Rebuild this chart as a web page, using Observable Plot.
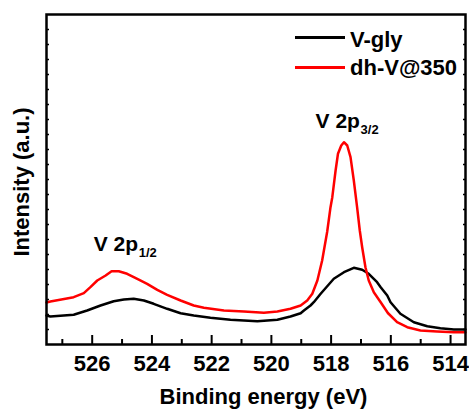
<!DOCTYPE html>
<html><head><meta charset="utf-8">
<script src="https://cdn.jsdelivr.net/npm/d3@7"></script>
<script src="https://cdn.jsdelivr.net/npm/@observablehq/plot@0.6"></script>
<style>
body{margin:0;background:#fff;}
#wrap{position:relative;width:469px;height:409px;font-family:"Liberation Sans",Arial,sans-serif;font-weight:bold;}
.sw{position:absolute;left:295px;width:50px;height:3px;}
.lt{position:absolute;left:350px;font-size:22px;line-height:22px;white-space:nowrap;color:#000;}
</style></head><body><div id="wrap"></div>
<script>
// ---- data ----
const xMajor = [526, 524, 522, 520, 518, 516, 514];
const xMinor = [527, 525, 523, 521, 519, 517, 515];
const yTicks = d3.range(15, 330, 15);

const seriesNames = ["V-gly", "dh-V@350"];
const seriesColors = ["#000000", "#ff0000"];

const energyBlack = [527.53,527.40,526.62,526.17,525.72,525.28,524.94,524.61,524.27,523.94,523.49,523.04,522.60,522.04,521.37,520.47,519.80,519.36,519.02,518.91,518.69,518.58,518.35,517.91,517.57,517.24,516.96,516.74,516.46,516.34,516.12,516.01,515.68,515.23,514.78,514.34,513.89,513.50];
const intensityBlack = [29,28,29.7,34,39,43.3,45,45.7,44,40.7,35.7,31.3,29,26.7,24.7,23.3,24.7,28,31.3,34,39,42.3,50.7,65.7,72.3,76.7,74.7,70.7,62.3,57.3,49,42.3,30.7,22.3,18.3,16.3,15,15];

const energyRed = [527.53,527.40,526.62,526.28,526.06,525.83,525.55,525.35,525.11,524.83,524.49,524.16,523.82,523.49,523.04,522.60,522.26,521.59,520.92,520.25,519.80,519.36,519.02,518.80,518.63,518.46,518.30,518.13,518.02,517.96,517.85,517.77,517.66,517.57,517.46,517.35,517.24,517.13,517.04,516.96,516.85,516.74,516.57,516.34,516.10,515.79,515.45,515.01,514.45,513.89,513.50];
const intensityRed = [42,43,47.3,51.3,57.3,64,69,73.3,73.3,70.7,65.7,60.7,54.7,49.7,44,39,36.7,34,33,31.7,33,35.7,39,44,50.7,64,84,113,137.3,147.3,174,190.7,199,202.3,199,187.3,164,137.3,114,97.3,77.3,64,52.3,42.3,31.5,22.3,17.3,14,13,12.3,12.3];

const peakText = ["V 2p", "V 2p"];
const peakSub = ["1/2", "3/2"];
const peakEnergy = [525.95, 518.52];
const peakIntensity = [94, 217];

// ---- build ----
const black = energyBlack.map((e, i) => ({e, v: intensityBlack[i]}));
const red = energyRed.map((e, i) => ({e, v: intensityRed[i]}));
const peaks = peakText.map((t, i) => ({t, s: peakSub[i], e: peakEnergy[i], v: peakIntensity[i]}));

const chart = Plot.plot({
  width: 469, height: 409,
  marginLeft: 46, marginRight: 4, marginTop: 14, marginBottom: 65,
  style: {fontFamily: "'Liberation Sans', Arial, sans-serif", fontWeight: "bold", background: "white", color: "black"},
  x: {domain: [527.53, 513.5], label: null},
  y: {domain: [0, 330], label: null},
  marks: [
    Plot.axisX(xMajor, {anchor: "bottom", tickSize: -9, strokeWidth: 2, fill: "none", label: null}),
    Plot.axisX(xMinor, {anchor: "bottom", tickSize: -5, strokeWidth: 2, fill: "none", label: null}),
    Plot.axisX(xMajor, {anchor: "bottom", tickSize: 0, tickPadding: 10.5, fontSize: 22, label: null}),
    Plot.axisY(yTicks, {anchor: "left", tickSize: -3, strokeWidth: 1.5, fill: "none", label: null}),
    Plot.axisY(yTicks, {anchor: "right", tickSize: -3, strokeWidth: 1.5, fill: "none", label: null}),
    Plot.line(black, {x: "e", y: "v", stroke: seriesColors[0], strokeWidth: 2.5}),
    Plot.line(red, {x: "e", y: "v", stroke: seriesColors[1], strokeWidth: 2.5}),
    Plot.frame({stroke: "black", strokeWidth: 2.5}),
    Plot.text(peaks, {x: "e", y: "v", text: "t", textAnchor: "start", lineAnchor: "bottom", fontSize: 21, fill: "black"}),
    Plot.text(peaks, {x: "e", y: "v", text: "s", textAnchor: "start", lineAnchor: "bottom", fontSize: 13, dx: 45, dy: 6, fill: "black"}),
    Plot.text(["Binding energy (eV)"], {frameAnchor: "bottom", lineAnchor: "bottom", dy: 59, dx: 7.5, fontSize: 22, fill: "black"}),
    Plot.text(["Intensity (a.u.)"], {frameAnchor: "left", rotate: -90, textAnchor: "middle", lineAnchor: "middle", dx: -24.5, dy: 2.5, fontSize: 22, fill: "black"})
  ]
});
const wrap = document.getElementById("wrap");
wrap.appendChild(chart);

// legend overlay
const legTops = [36, 66];
const legTextTops = [28.7, 57.4];
seriesNames.forEach((n, i) => {
  const sw = document.createElement("div");
  sw.className = "sw"; sw.style.top = legTops[i] + "px"; sw.style.background = seriesColors[i];
  wrap.appendChild(sw);
  const t = document.createElement("div");
  t.className = "lt"; t.style.top = legTextTops[i] + "px"; t.textContent = n;
  wrap.appendChild(t);
});
</script></body></html>
